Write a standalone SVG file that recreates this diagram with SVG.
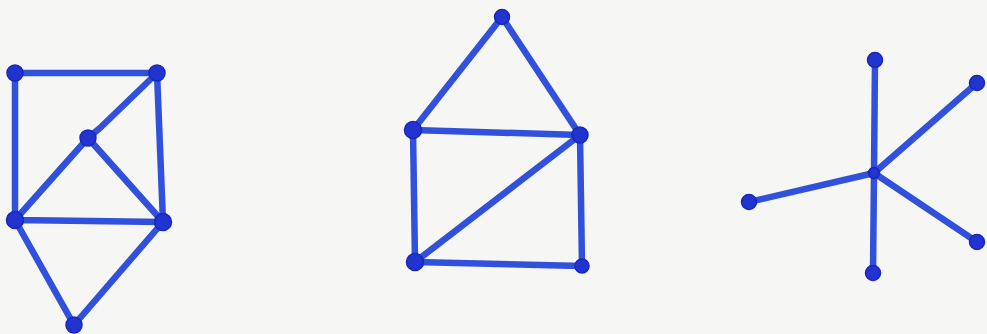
<svg xmlns="http://www.w3.org/2000/svg" width="987" height="334" viewBox="0 0 987 334">
<style>
.e{stroke:#3150dc;stroke-width:6.5;stroke-linecap:round;stroke-linejoin:round;fill:none}
.n{fill:#2234d0;stroke:#1a26bc;stroke-width:1.5}
</style>
<rect width="987" height="334" fill="#f6f6f4"/>
<g id="connectors">
<path class="e" d="M15 73L157 73M15 73L15 220M157 73L163 222M157 73L100 128L88 138M88 138L15 220M88 138L163 222M15 220L163 222M15 220L74 325M163 222L74 325"/>
<path class="e" d="M502 17L413 130M502 17L580 135M413 130L580 135M413 130L415 262M580 135L582 266M415 262L582 266M415 262L580 135"/>
<path class="e" d="M874 173L875 60M874 173L977 83M874 173L749 202M874 173L977 242M874 173L873 273"/>
</g>
<g id="g1a"><circle class="n" cx="15" cy="73" r="8"/></g>
<g id="g1b"><circle class="n" cx="157" cy="73" r="8"/></g>
<g id="g1c"><circle class="n" cx="88" cy="138" r="8"/></g>
<g id="g1d"><circle class="n" cx="15" cy="220" r="8.5"/></g>
<g id="g1e"><circle class="n" cx="163" cy="222" r="8.5"/></g>
<g id="g1f"><circle class="n" cx="74" cy="325" r="8"/></g>
<g id="g2top"><circle class="n" cx="502" cy="17" r="7.5"/></g>
<g id="g2l"><circle class="n" cx="413" cy="130" r="8.5"/></g>
<g id="g2r"><circle class="n" cx="580" cy="135" r="8"/></g>
<g id="g2bl"><circle class="n" cx="415" cy="262" r="8.5"/></g>
<g id="g2br"><circle class="n" cx="582" cy="266" r="7"/></g>
<g id="g3c"><circle class="n" cx="874" cy="173" r="5.5"/></g>
<g id="g3t"><circle class="n" cx="875" cy="60" r="7.5"/></g>
<g id="g3tr"><circle class="n" cx="977" cy="83" r="7.5"/></g>
<g id="g3l"><circle class="n" cx="749" cy="202" r="7.5"/></g>
<g id="g3br"><circle class="n" cx="977" cy="242" r="7.5"/></g>
<g id="g3b"><circle class="n" cx="873" cy="273" r="7.5"/></g>
</svg>
